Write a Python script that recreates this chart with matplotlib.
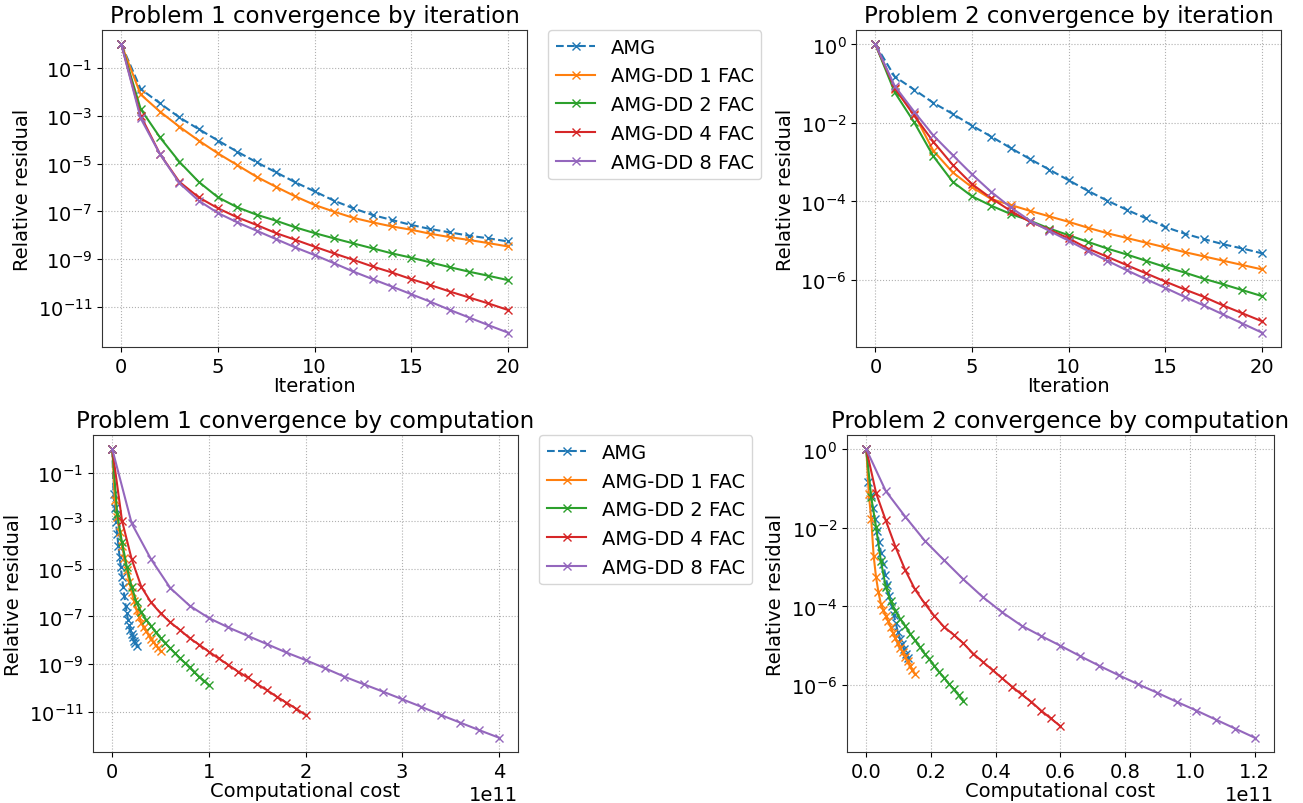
import numpy as np
import matplotlib
matplotlib.use("Agg")
import matplotlib.pyplot as plt

# iteration index (0..20)
iterations = list(range(21))

labels = ["AMG", "AMG-DD 1 FAC", "AMG-DD 2 FAC", "AMG-DD 4 FAC", "AMG-DD 8 FAC"]

# relative residuals as log10 exponents
p1_amg = [0, -1.87, -2.47, -3.06, -3.55, -4.03, -4.50, -4.94, -5.36, -5.78, -6.16,
          -6.55, -6.87, -7.15, -7.36, -7.57, -7.74, -7.88, -8.02, -8.13, -8.26]
p1_fac1 = [0, -2.10, -2.82, -3.45, -4.03, -4.57, -5.06, -5.55, -5.97, -6.37, -6.73,
           -7.01, -7.27, -7.46, -7.63, -7.77, -7.94, -8.08, -8.20, -8.33, -8.47]
p1_fac2 = [0, -2.71, -3.90, -4.92, -5.76, -6.41, -6.83, -7.14, -7.39, -7.67, -7.91,
           -8.13, -8.34, -8.55, -8.76, -8.94, -9.14, -9.34, -9.53, -9.70, -9.88]
p1_fac4 = [0, -2.99, -4.60, -5.76, -6.41, -6.87, -7.25, -7.57, -7.91, -8.19, -8.48,
           -8.76, -9.03, -9.31, -9.56, -9.84, -10.09, -10.36, -10.61, -10.86, -11.13]
p1_fac8 = [0, -3.10, -4.60, -5.81, -6.55, -7.07, -7.46, -7.81, -8.16, -8.51, -8.83,
           -9.17, -9.52, -9.84, -10.15, -10.47, -10.79, -11.13, -11.45, -11.77, -12.08]

p2_amg = [0, -0.82, -1.15, -1.49, -1.77, -2.07, -2.35, -2.64, -2.92, -3.19, -3.46,
          -3.73, -3.98, -4.21, -4.43, -4.65, -4.82, -4.96, -5.09, -5.20, -5.32]
p2_fac1 = [0, -1.13, -1.77, -2.71, -3.26, -3.64, -3.94, -4.09, -4.24, -4.38, -4.52,
           -4.67, -4.81, -4.93, -5.05, -5.17, -5.29, -5.40, -5.51, -5.62, -5.73]
p2_fac2 = [0, -1.22, -1.98, -2.85, -3.50, -3.87, -4.11, -4.32, -4.49, -4.69, -4.86,
           -5.03, -5.20, -5.35, -5.51, -5.67, -5.81, -5.97, -6.11, -6.26, -6.41]
p2_fac4 = [0, -1.11, -1.81, -2.48, -3.07, -3.56, -3.92, -4.24, -4.52, -4.72, -4.94,
           -5.20, -5.41, -5.62, -5.83, -6.04, -6.24, -6.43, -6.65, -6.85, -7.05]
p2_fac8 = [0, -1.06, -1.71, -2.32, -2.82, -3.31, -3.76, -4.15, -4.49, -4.75, -5.00,
           -5.26, -5.51, -5.75, -5.98, -6.20, -6.43, -6.65, -6.88, -7.11, -7.34]

# computational cost per iteration for each method
p1_cost_per_iter = [1.25e9, 2.5e9, 5e9, 1e10, 2e10]
p2_cost_per_iter = [6.5e8, 7.5e8, 1.5e9, 3e9, 6e9]

p1_res = [p1_amg, p1_fac1, p1_fac2, p1_fac4, p1_fac8]
p2_res = [p2_amg, p2_fac1, p2_fac2, p2_fac4, p2_fac8]

colors = ["#1f77b4", "#ff7f0e", "#2ca02c", "#d62728", "#9467bd"]
styles = ["--", "-", "-", "-", "-"]

plt.rcParams['font.family'] = ['DejaVu Sans']
plt.rcParams['font.size'] = 14

fig = plt.figure(figsize=(13.03, 8.04), dpi=100)
ax_tl = fig.add_axes([0.0783, 0.5672, 0.3262, 0.3943])
ax_tr = fig.add_axes([0.6570, 0.5672, 0.3262, 0.3943])
ax_bl = fig.add_axes([0.0714, 0.0634, 0.3262, 0.3943])
ax_br = fig.add_axes([0.6500, 0.0634, 0.3277, 0.3943])


def draw(ax, res, costs, title, xlabel, legend):
    it = np.array(iterations)
    for i in range(5):
        x = it if costs is None else it * costs[i]
        ax.plot(x, 10.0 ** np.array(res[i]), styles[i], color=colors[i],
                marker='x', markersize=6, linewidth=1.5, label=labels[i])
    ax.set_yscale('log')
    ax.set_title(title, fontsize=16.5)
    ax.set_xlabel(xlabel, fontsize=14, labelpad=0)
    ax.set_ylabel("Relative residual", fontsize=14)
    ax.grid(True, linestyle=':', color='#b0b0b0', linewidth=0.8)
    ax.tick_params(labelsize=14)
    for s in ax.spines.values():
        s.set_color('#333333')
    if legend:
        ax.legend(loc='upper left', bbox_to_anchor=(1.05, 1.0), borderaxespad=0,
                  fontsize=14)


draw(ax_tl, p1_res, None, "Problem 1 convergence by iteration", "Iteration", True)
draw(ax_tr, p2_res, None, "Problem 2 convergence by iteration", "Iteration", False)
draw(ax_bl, p1_res, p1_cost_per_iter, "Problem 1 convergence by computation",
     "Computational cost", True)
draw(ax_br, p2_res, p2_cost_per_iter, "Problem 2 convergence by computation",
     "Computational cost", False)

ax_tr.set_yticks([1e0, 1e-2, 1e-4, 1e-6])
ax_br.set_yticks([1e0, 1e-2, 1e-4, 1e-6])
ax_tl.set_yticks([1e-1, 1e-3, 1e-5, 1e-7, 1e-9, 1e-11])
ax_bl.set_yticks([1e-1, 1e-3, 1e-5, 1e-7, 1e-9, 1e-11])
for ax in (ax_tl, ax_tr, ax_bl, ax_br):
    ax.minorticks_off()

fig.savefig("out.png", dpi=100)
